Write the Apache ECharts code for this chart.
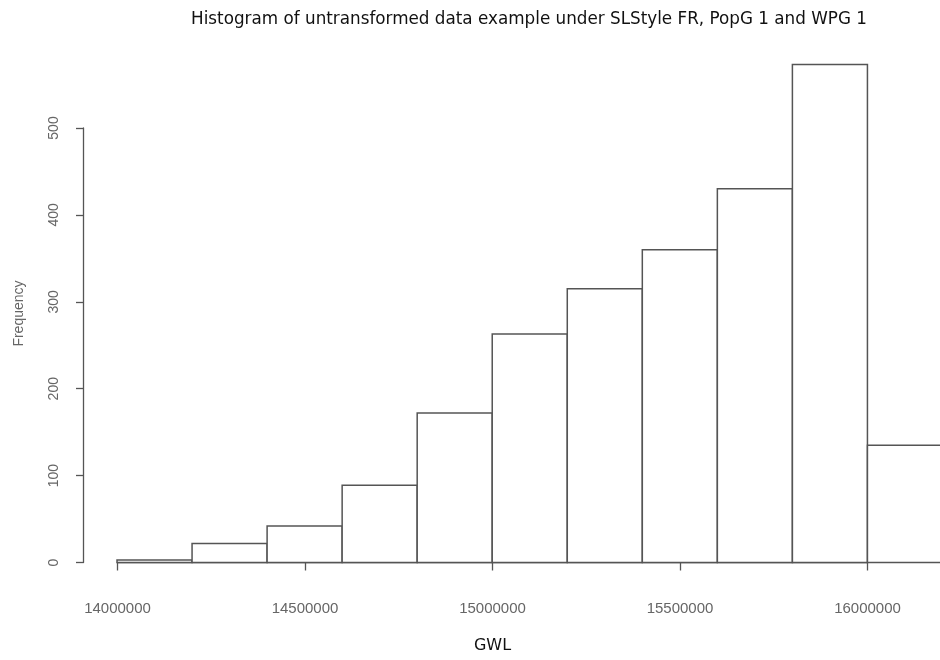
<!DOCTYPE html>
<html>
<head>
<meta charset="utf-8">
<script src="https://cdn.jsdelivr.net/npm/echarts@6/dist/echarts.min.js"></script>
<style>html,body{margin:0;padding:0;background:#fff;}#c{width:940px;height:660px;}</style>
</head>
<body>
<div id="c"></div>
<script>
var breaks = [14000000, 14200000, 14400000, 14600000, 14800000, 15000000, 15200000, 15400000, 15600000, 15800000, 16000000, 16200000];
var counts = [3, 22, 42, 89, 172, 263, 315, 360, 430, 573, 135];
var xTickMin = 14000000, xTickMax = 16000000, xTickStep = 500000;
var yTickMin = 0, yTickMax = 500, yTickStep = 100;
var titleText = 'Histogram of untransformed data example under SLStyle FR, PopG 1 and WPG 1';
var xLabel = 'GWL';
var yLabel = 'Frequency';

var maxCount = Math.max.apply(null, counts);
var xlimLo = breaks[0] - 0.04 * (breaks[breaks.length - 1] - breaks[0]);
var xlimHi = breaks[breaks.length - 1] + 0.04 * (breaks[breaks.length - 1] - breaks[0]);
var ylimLo = -0.04 * maxCount, ylimHi = maxCount * 1.04;

var histData = counts.map(function (c, i) { return [breaks[i], breaks[i + 1], c]; });

var chart = echarts.init(document.getElementById('c'), null, {renderer: 'canvas'});
var axisColor = '#555';
var lblColor = '#666';
chart.setOption({
  backgroundColor: '#fff',
  animation: false,
  title: {
    text: titleText,
    left: 524, top: 6, textAlign: 'center',
    textStyle: {fontFamily: 'DejaVu Sans', fontSize: 16.8, fontWeight: 'normal', color: '#111'}
  },
  grid: [
    {left: 84, top: 44.6, width: 891.5, height: 537.9, outerBoundsMode: 'none', containLabel: false},
    {left: 117.5, top: 128, width: 750, height: 434.5, outerBoundsMode: 'none', containLabel: false}
  ],
  xAxis: [
    {gridIndex: 0, type: 'value', min: xlimLo, max: xlimHi, show: false},
    {gridIndex: 1, type: 'value', min: xTickMin, max: xTickMax, interval: xTickStep,
      position: 'bottom', offset: 20.5,
      axisLine: {show: true, lineStyle: {color: axisColor, width: 1.3}},
      axisTick: {show: true, length: 8, lineStyle: {color: axisColor, width: 1.3}},
      axisLabel: {show: true, margin: 18, color: lblColor, fontFamily: 'Liberation Sans', fontSize: 15,
        formatter: function (v) { return String(v); }},
      splitLine: {show: false},
      name: xLabel, nameLocation: 'middle', nameGap: 55,
      nameTextStyle: {fontFamily: 'DejaVu Sans', fontSize: 16, color: '#111'}
    }
  ],
  yAxis: [
    {gridIndex: 0, type: 'value', min: ylimLo, max: ylimHi, show: true,
      axisLine: {show: false}, axisTick: {show: false}, axisLabel: {show: false}, splitLine: {show: false},
      name: yLabel, nameLocation: 'middle', nameGap: 58,
      nameTextStyle: {fontFamily: 'Liberation Sans', fontSize: 14, color: lblColor}
    },
    {gridIndex: 1, type: 'value', min: yTickMin, max: yTickMax, interval: yTickStep,
      position: 'left', offset: 34.5,
      axisLine: {show: true, lineStyle: {color: axisColor, width: 1.3}},
      axisTick: {show: true, length: 7, lineStyle: {color: axisColor, width: 1.3}},
      axisLabel: {show: true, rotate: 90, margin: 22, color: lblColor, fontFamily: 'Liberation Sans', fontSize: 14},
      splitLine: {show: false}
    }
  ],
  series: [{
    type: 'custom',
    xAxisIndex: 0, yAxisIndex: 0,
    clip: false,
    data: histData,
    encode: {x: [0, 1], y: 2},
    renderItem: function (params, api) {
      var p0 = api.coord([api.value(0), api.value(2)]);
      var p1 = api.coord([api.value(1), 0]);
      return {
        type: 'rect',
        shape: {x: p0[0], y: p0[1], width: p1[0] - p0[0], height: p1[1] - p0[1]},
        style: {fill: '#fff', stroke: axisColor, lineWidth: 1.5}
      };
    }
  }]
});
</script>
</body>
</html>
